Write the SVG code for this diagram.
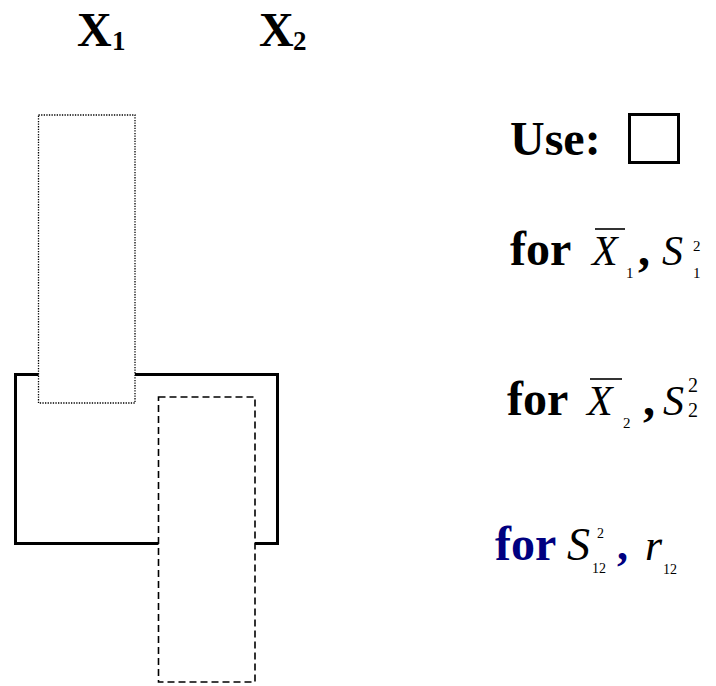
<svg xmlns="http://www.w3.org/2000/svg" width="716" height="686" viewBox="0 0 716 686">
<style>
.t{font-family:"Liberation Serif","Times New Roman",serif;fill:#000}
.b{font-weight:bold}
.i{font-style:italic}
.navy{fill:#000080}
.solid{fill:none;stroke:#000;stroke-width:3}
.dot{fill:#fff;stroke:#000;stroke-width:1.3;stroke-dasharray:1.3 1.3}
.dash{fill:#fff;stroke:#000;stroke-width:1.6;stroke-dasharray:7 4}
.bar{stroke:#000;stroke-width:1.6}
</style>
<rect width="716" height="686" fill="#fff"/>
<g id="headers">
<text class="t b" x="77" y="46" font-size="48">X</text>
<text class="t b" x="112" y="50" font-size="27">1</text>
<text class="t b" x="259" y="46" font-size="48">X</text>
<text class="t b" x="293" y="50" font-size="27">2</text>
</g>
<g id="combined-box">
<rect class="solid" x="15.5" y="374.5" width="262" height="169"/>
</g>
<g id="x1-box">
<rect class="dot" x="38.5" y="115" width="96.5" height="288"/>
</g>
<g id="x2-box">
<rect class="dash" x="158.5" y="397" width="96.5" height="285"/>
</g>
<g id="legend-use">
<text class="t b" x="510" y="155" font-size="48">Use:</text>
<rect class="solid" x="629.5" y="114.5" width="49" height="48"/>
</g>
<g id="legend-1">
<text class="t b" x="510" y="265" font-size="48">for</text>
<text class="t i" x="592" y="265" font-size="42">X</text>
<line class="bar" x1="595" y1="229" x2="625" y2="229"/>
<text class="t" x="626" y="278" font-size="15">1</text>
<text class="t b" x="638" y="265" font-size="48">,</text>
<text class="t i" x="662" y="265" font-size="42">S</text>
<text class="t" x="693" y="251" font-size="15">2</text>
<text class="t" x="693" y="278" font-size="15">1</text>
</g>
<g id="legend-2">
<text class="t b" x="507" y="415" font-size="48">for</text>
<text class="t i" x="587" y="415" font-size="42">X</text>
<line class="bar" x1="590" y1="379" x2="622" y2="379"/>
<text class="t" x="623" y="428" font-size="15">2</text>
<text class="t b" x="643" y="415" font-size="48">,</text>
<text class="t i" x="663" y="415" font-size="42">S</text>
<text class="t" x="688" y="392" font-size="20">2</text>
<text class="t" x="688" y="417" font-size="20">2</text>
</g>
<g id="legend-3">
<text class="t b navy" x="495" y="560" font-size="48">for</text>
<text class="t i" x="567" y="560" font-size="46">S</text>
<text class="t" x="597" y="538" font-size="14">2</text>
<text class="t" x="592" y="573" font-size="14">12</text>
<text class="t b navy" x="617" y="560" font-size="44">,</text>
<text class="t i" x="645" y="560" font-size="44">r</text>
<text class="t" x="663" y="574" font-size="14">12</text>
</g>
</svg>
